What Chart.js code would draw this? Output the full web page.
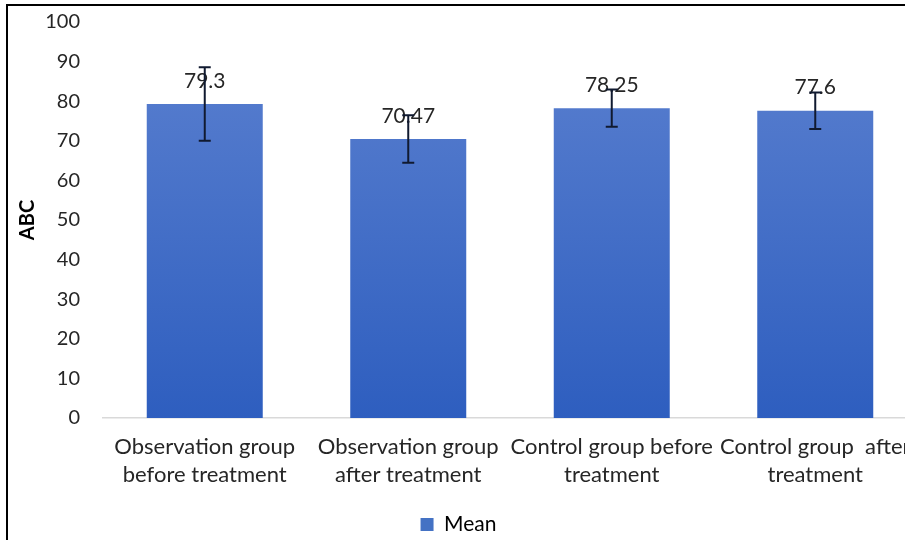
<!DOCTYPE html>
<html>
<head>
<meta charset="utf-8">
<script src="https://cdn.jsdelivr.net/npm/chart.js@4.4.0/dist/chart.umd.min.js"></script>
<style>
  html, body { margin: 0; padding: 0; background: #fff; overflow: hidden; }
  #wrap { position: relative; width: 905px; height: 540px; }
  #frame { position: absolute; left: 6px; top: 4px; width: 1000px; height: 1000px;
           border-left: 2px solid #000; border-top: 2px solid #000; pointer-events: none; }
  canvas { position: absolute; left: 0; top: 0; }
</style>
</head>
<body>
<div id="wrap">
  <canvas id="abcChart" width="930" height="540"></canvas>
  <div id="frame"></div>
</div>
<script>
// chart data
const categories = [
  ['Observation group', 'before treatment'],
  ['Observation group', 'after treatment'],
  ['Control group before', 'treatment'],
  ['Control group  after', 'treatment']
];
const meanValues = [79.3, 70.47, 78.25, 77.6];
const errorValues = [9.3, 6.0, 4.7, 4.6];
const valueLabels = ['79.3', '70.47', '78.25', '77.6'];
const yTicks = [0, 10, 20, 30, 40, 50, 60, 70, 80, 90, 100];

const FONT = 'Lato, "Open Sans", sans-serif';

// error bars + value labels
const errorBarPlugin = {
  id: 'errorBars',
  afterDatasetsDraw(chart) {
    const ctx = chart.ctx;
    const meta = chart.getDatasetMeta(0);
    const y = chart.scales.y;
    ctx.save();
    meta.data.forEach((bar, i) => {
      const x = bar.x;
      const top = y.getPixelForValue(meanValues[i] + errorValues[i]);
      const bot = y.getPixelForValue(meanValues[i] - errorValues[i]);
      // value label first, error bar is drawn over it
      ctx.fillStyle = '#262626';
      ctx.font = '21px ' + FONT;
      ctx.textAlign = 'center';
      ctx.textBaseline = 'middle';
      ctx.fillText(valueLabels[i], x, bar.y - 23);

      ctx.strokeStyle = '#101a30';
      ctx.lineWidth = 2;
      ctx.beginPath();
      ctx.moveTo(x, top); ctx.lineTo(x, bot);
      ctx.moveTo(x - 6, top); ctx.lineTo(x + 6, top);
      ctx.moveTo(x - 6, bot); ctx.lineTo(x + 6, bot);
      ctx.stroke();
    });
    ctx.restore();
  }
};

function barGradient(context) {
  const area = context.chart.chartArea;
  if (!area) return '#4472c4';
  const g = context.chart.ctx.createLinearGradient(0, area.top, 0, area.bottom);
  g.addColorStop(0, '#5c81d0');
  g.addColorStop(1, '#2e5ebf');
  return g;
}

const ctx = document.getElementById('abcChart').getContext('2d');
const abcChart = new Chart(ctx, {
  type: 'bar',
  data: {
    labels: categories,
    datasets: [{
      label: 'Mean',
      data: meanValues,
      backgroundColor: barGradient,
      borderWidth: 0,
      barPercentage: 0.57,
      categoryPercentage: 1
    }]
  },
  options: {
    responsive: false,
    animation: false,
    devicePixelRatio: 1,
    layout: { padding: { top: 22, left: 0, right: 13, bottom: -5 } },
    plugins: {
      tooltip: { enabled: false },
      legend: {
        position: 'bottom',
        labels: {
          color: '#262626',
          font: { family: FONT, size: 21 },
          boxWidth: 13,
          boxHeight: 13,
          padding: 4,
          generateLabels(chart) {
            return [{
              text: 'Mean',
              fillStyle: '#4472c4',
              strokeStyle: '#4472c4',
              lineWidth: 0,
              datasetIndex: 0
            }];
          }
        }
      }
    },
    scales: {
      x: {
        grid: { display: false, drawTicks: false },
        border: { display: true, color: '#d9d9d9', width: 1.5 },
        ticks: {
          color: '#262626',
          font: { family: FONT, size: 22, lineHeight: 1.27 },
          padding: 15,
          maxRotation: 0,
          autoSkip: false
        },
        afterFit(scale) { scale.height = 92; }
      },
      y: {
        min: 0,
        max: 100,
        afterBuildTicks(scale) { scale.ticks = yTicks.map(v => ({ value: v })); },
        grid: { display: false, drawTicks: true, tickLength: 20 },
        border: { display: false },
        ticks: {
          color: '#262626',
          font: { family: FONT, size: 20 },
          padding: 3
        },
        title: {
          display: true,
          text: 'ABC',
          color: '#000',
          font: { family: FONT, size: 20, weight: 'bold' },
          padding: { top: 16, bottom: 0 }
        },
        afterFit(scale) { scale.width = 103; }
      }
    }
  },
  plugins: [errorBarPlugin]
});
</script>
</body>
</html>
